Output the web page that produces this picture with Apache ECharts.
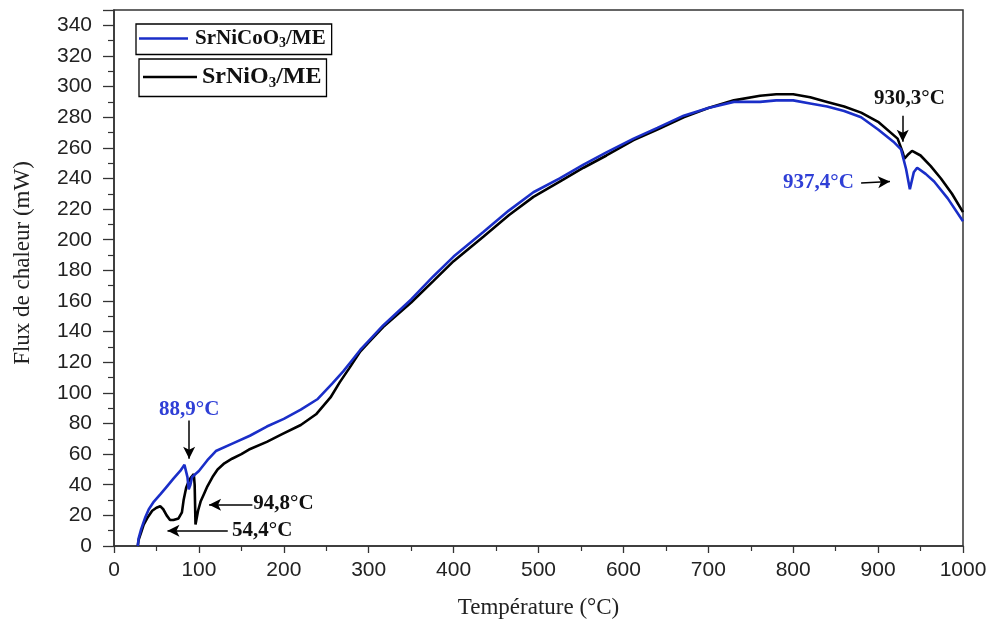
<!DOCTYPE html>
<html>
<head>
<meta charset="utf-8">
<script src="https://cdn.jsdelivr.net/npm/echarts@6/dist/echarts.min.js"></script>
<style>html,body{margin:0;padding:0;background:#fff}#c{width:993px;height:624px}</style>
</head>
<body>
<div id="c"></div>
<script>
const seriesNames = ['SrNiCoO3/ME', 'SrNiO3/ME'];
const tempBlue = [28,29,32,37,41,47,55,61,70,78,83,85,86.5,88,90,92,96,100,110,120,140,160,180,200,220,240,257,270,280,290,300,317,350,376,400,435,465,494,525,553,580,612,640,671,700,730,761,780,800,820,840,860,880,900,918,927,933,937.4,942,946,956,966,982,1000];
const fluxBlue = [0,5,11,19,24,29,34,38,44,49,53,54,45,37,40,45,47,49,56,62,67,72,78,83,89,96,106,114,121,128,134,144,161,176,189,205,219,231,240,249,257,266,273,281,286,290,290,291,291,289,287,284,280,272,264,259,246,233,244,247,243,238,227,212];
const tempBlack = [28,29,32,35,40,45,50,54.4,58,62,66,70,76,80,82,85,88.5,91,94,95,96,99,102,106,110,116,122,130,139,150,159,180,198,220,238,255,266,277,290,300,317,350,376,400,435,465,494,525,553,580,612,640,671,700,730,761,780,800,820,840,860,880,900,923,929,931,936,940,950,962,974,987,1000];
const fluxBlack = [0,4,9,14,19,23,25,26,24,20,17,17,18,22,30,38,43,45,47,40,14,23,29,34,39,45,50,54,57,60,63,68,73,79,86,97,107,116,127,133,143,159,173,186,202,216,228,238,247,255,265,272,280,286,291,294,295,295,293,290,287,283,277,266,257,253,256,258,255,248,240,230,218];
const xTicks = {min: 0, max: 1000, interval: 100};
const yTicks = {min: 0, max: 350, interval: 20};
const annotations = [
  {text: '88,9°C', color: 'blue', at: [88.5, 89], pos: 'inside', arrow: [[88.5, 82], [88.5, 57]]},
  {text: '94,8°C', color: 'black', at: [164, 28], pos: 'right', arrow: [[163, 27], [112, 27]]},
  {text: '54,4°C', color: 'black', at: [139, 10], pos: 'right', arrow: [[134, 10], [63, 10]]},
  {text: '930,3°C', color: 'black', at: [937, 292], pos: 'inside', arrow: [[929, 281], [929, 264]]},
  {text: '937,4°C', color: 'blue', at: [788, 237], pos: 'right', arrow: [[880, 237], [914, 238]]}
];

const BLUE = '#1a2ec8';
const BLUE_TXT = '#2f3fd6';
const zip = (a, b) => a.map((v, i) => [v, b[i]]);

function marks(colorKey) {
  const list = annotations.filter(a => a.color === colorKey);
  const col = colorKey === 'blue' ? BLUE_TXT : '#111';
  return {
    markLine: {
      silent: true,
      symbol: ['none', 'arrow'],
      symbolSize: [9, 12],
      lineStyle: {color: '#000', width: 1.5, type: 'solid'},
      label: {show: false},
      data: list.map(a => [{coord: a.arrow[0]}, {coord: a.arrow[1]}])
    },
    markPoint: {
      silent: true,
      symbol: 'circle',
      symbolSize: 0,
      data: list.map(a => ({
        coord: a.at,
        label: {
          show: true,
          formatter: a.text,
          position: a.pos,
          distance: 0,
          color: col,
          fontFamily: 'Liberation Serif',
          fontWeight: 'bold',
          fontSize: 21
        }
      }))
    }
  };
}

function legendRich(size, subSize, shift) {
  return {
    m: {fontFamily: 'Liberation Serif', fontWeight: 'bold', fontSize: size, color: '#111'},
    s: {fontFamily: 'Liberation Serif', fontWeight: 'bold', fontSize: subSize, color: '#111', padding: [shift, 0, 0, 0]}
  };
}

const chart = echarts.init(document.getElementById('c'), null, {renderer: 'canvas'});
chart.setOption({
  animation: false,
  backgroundColor: '#fff',
  grid: {left: 114, right: 30, top: 10, bottom: 75, show: true, borderColor: '#333', borderWidth: 1.5, containLabel: false},
  legend: [
    {
      data: [seriesNames[0]], left: 136, top: 24, orient: 'vertical',
      icon: 'rect', itemWidth: 49, itemHeight: 2.6, itemGap: 0,
      padding: [4, 6, 4, 3], borderColor: '#000', borderWidth: 1.3, borderRadius: 0,
      formatter: () => '{m|SrNiCoO}{s|3}{m|/ME}',
      textStyle: {padding: [0, 0, 0, 2], rich: legendRich(21, 14, 10)}
    },
    {
      data: [seriesNames[1]], left: 139, top: 59, orient: 'vertical',
      icon: 'rect', itemWidth: 54, itemHeight: 2.6, itemGap: 0,
      padding: [6, 5, 6, 4], borderColor: '#000', borderWidth: 1.3, borderRadius: 0,
      formatter: () => '{m|SrNiO}{s|3}{m|/ME}',
      textStyle: {rich: legendRich(24, 15, 12)}
    }
  ],
  xAxis: {
    type: 'value', min: xTicks.min, max: xTicks.max, interval: xTicks.interval,
    name: 'Température (°C)', nameLocation: 'middle', nameGap: 50,
    nameTextStyle: {fontFamily: 'Liberation Serif', fontSize: 23, color: '#222'},
    axisLine: {show: true, lineStyle: {color: '#333', width: 1.5}},
    axisTick: {show: true, length: 7, lineStyle: {color: '#333', width: 1.3}},
    minorTick: {show: true, splitNumber: 2, length: 5, lineStyle: {color: '#333', width: 1.2}},
    axisLabel: {margin: 14, formatter: v => String(v), fontFamily: 'Liberation Sans Narrow, Liberation Sans', fontSize: 21, color: '#222'},
    splitLine: {show: false}
  },
  yAxis: {
    type: 'value', min: yTicks.min, max: yTicks.max, interval: yTicks.interval,
    name: 'Flux de chaleur (mW)', nameLocation: 'middle', nameGap: 80,
    nameTextStyle: {fontFamily: 'Liberation Serif', fontSize: 23, color: '#222', padding: [0, 0, 0, 30]},
    axisLine: {show: true, lineStyle: {color: '#333', width: 1.5}},
    axisTick: {show: true, length: 11, lineStyle: {color: '#333', width: 1.3}},
    minorTick: {show: true, splitNumber: 2, length: 6, lineStyle: {color: '#333', width: 1.2}},
    axisLabel: {margin: 22, showMaxLabel: false, fontFamily: 'Liberation Sans', fontSize: 21, color: '#222'},
    splitLine: {show: false}
  },
  series: [
    Object.assign({
      name: seriesNames[0], type: 'line', data: zip(tempBlue, fluxBlue),
      symbol: 'none', z: 3,
      lineStyle: {color: BLUE, width: 2.6}, itemStyle: {color: BLUE}
    }, marks('blue')),
    Object.assign({
      name: seriesNames[1], type: 'line', data: zip(tempBlack, fluxBlack),
      symbol: 'none', z: 2,
      lineStyle: {color: '#000', width: 2.6}, itemStyle: {color: '#000'}
    }, marks('black'))
  ]
});
</script>
</body>
</html>
